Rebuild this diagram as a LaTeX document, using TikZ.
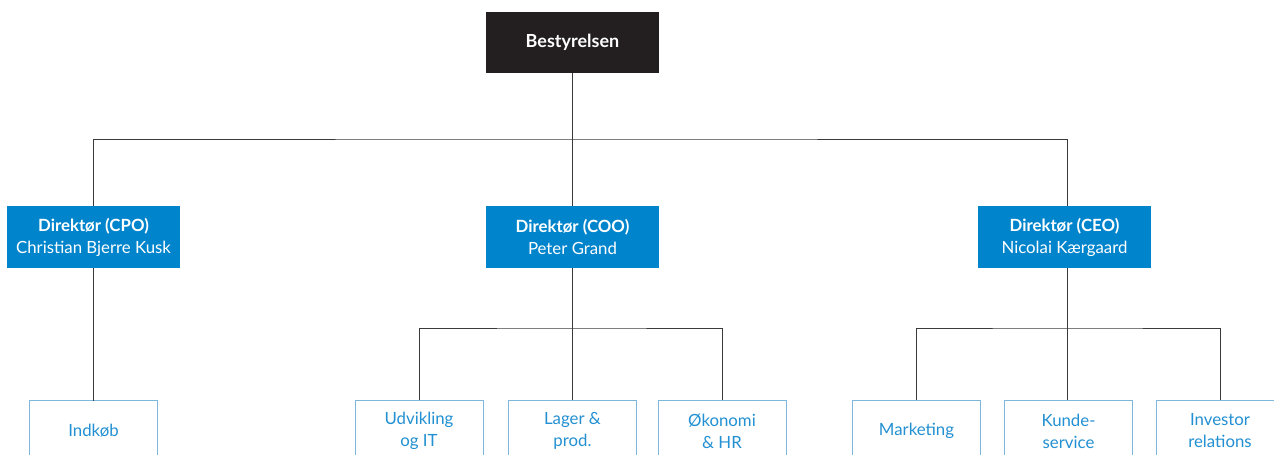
\documentclass[tikz,border=0pt]{standalone}
\usepackage{fontspec}
\setmainfont{Lato}
\usetikzlibrary{positioning}
\definecolor{cdark}{HTML}{231F20}
\definecolor{cblue}{HTML}{0084CC}
\definecolor{clight}{HTML}{7DB8DC}
\definecolor{ctext}{HTML}{2290D2}
\definecolor{cline}{HTML}{3A3A3A}
\tikzset{
  every picture/.style={font=\fontsize{16.8}{22}\selectfont, line width=0.9pt},
  board/.style={fill=cdark, text=white, font=\fontsize{18}{22}\selectfont\bfseries, minimum width=173pt, minimum height=61pt, align=center, inner sep=0pt},
  director/.style={fill=cblue, text=white, minimum width=173pt, minimum height=62pt, align=center, inner sep=0pt},
  unit/.style={draw=clight, fill=white, text=ctext, minimum width=128pt, minimum height=62pt, align=center, inner sep=0pt},
  link/.style={draw=cline, line width=0.9pt},
}
\begin{document}
\begin{tikzpicture}[x=1pt, y=-1pt]
  \useasboundingbox (0,0) rectangle (1274,455);
  \node[board] (board) at (572.5,42.5) {Bestyrelsen};
  % directors
  \node[director] (cpo) at (93.5,237) {\textbf{Direktør (CPO)}\\Christian Bjerre Kusk};
  \node[director] (coo) at (572.5,237) {\textbf{Direktør (COO)}\\Peter Grand};
  \node[director] (ceo) at (1064.5,237) {\textbf{Direktør (CEO)}\\Nicolai Kærgaard};
  \coordinate (bus1) at (572.5,139);
  % units
  \node[unit] (indkob) at (93.5,431) {Indkøb};
  \node[unit] (udv) at (419,431) {Udvikling\\og IT};
  \node[unit] (lager) at (572.5,431) {Lager \&\\prod.};
  \node[unit] (oko) at (722,431) {Økonomi\\\& HR};
  \node[unit] (mkt) at (916.5,431) {Marketing};
  \node[unit] (kunde) at (1068.5,431) {Kunde-\\service};
  \node[unit] (inv) at (1220,431) {Investor\\relations};
  \coordinate (bus2) at (572.5,328);
  \coordinate (bus3) at (1067,328);
  % connectors
  \draw[link] (board) -- (coo);
  \draw[link] (cpo.north) |- (bus1) -| ([xshift=2.5pt]ceo.north);
  \draw[link] (cpo) -- ([yshift=-1pt]indkob.north);
  \draw[link] (udv.north) |- (bus2) -| (oko.north);
  \draw[link] (coo) -- (lager);
  \draw[link] (mkt.north) |- (bus3) -| (inv.north);
  \draw[link] ([xshift=2.5pt]ceo.south) -- (bus3) -- (kunde.north -| bus3);
\end{tikzpicture}
\end{document}
